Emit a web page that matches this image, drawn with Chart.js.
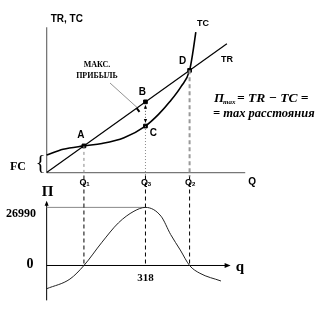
<!DOCTYPE html>
<html>
<head>
<meta charset="utf-8">
<script src="https://cdn.jsdelivr.net/npm/chart.js@4"></script>
<style>
  html, body { margin: 0; padding: 0; background: #fff; }
  #chart { display: block; }
</style>
</head>
<body>
<canvas id="chart" width="322" height="316"></canvas>
<script>
// ----------------------
// DATA
// ----------------------
// upper panel: total revenue / total cost against output Q
const qTR = [0, 580];
const trValues = [0, 133];
const qTC = [0, 53, 120, 178, 249, 318, 360, 396, 433, 460, 471, 480];
const tcValues = [18, 24, 27.5, 30, 36, 48, 60, 73, 89, 105.5, 125, 145];

// marked points A, B, C, D
const pointNames = ["A", "B", "C", "D"];
const pointQ = [120, 318, 318, 460];
const pointValues = [27.5, 73, 48, 105.5];

// lower panel: profit curve
const qProfit = [0, 75, 120, 178, 231, 281, 318, 368, 399, 430, 460, 493, 561];
const profitValues = [-10800, -6300, 0, 10800, 19800, 25200, 26990, 22900, 14400, 7200, 0, -3600, -7200];

// quantities on the axis: Q1, Q3, Q2
const qMarks = [120, 318, 460];
const qMarkNames = ["1", "3", "2"];
const profitTickLabels = ["0", "26990"];
const profitTickValues = [0, 26990];
const qTickLabel = "318";

// ----------------------
// HELPERS
// ----------------------
const xy = (xs, ys) => xs.map((x, i) => ({ x: x, y: ys[i] }));

function vSegment(q, from, to, axis, color, dash, width) {
  return {
    data: [{ x: q, y: from }, { x: q, y: to }],
    yAxisID: axis,
    showLine: true,
    borderColor: color,
    borderWidth: width,
    borderDash: dash,
    pointRadius: 0,
  };
}

function line(ctx, x1, y1, x2, y2, color, width, dash) {
  ctx.save();
  ctx.strokeStyle = color;
  ctx.lineWidth = width;
  ctx.setLineDash(dash || []);
  ctx.beginPath();
  ctx.moveTo(x1, y1);
  ctx.lineTo(x2, y2);
  ctx.stroke();
  ctx.restore();
}

function arrowHead(ctx, x, y, dx, dy, size, color) {
  const len = Math.hypot(dx, dy);
  const ux = dx / len, uy = dy / len;
  ctx.save();
  ctx.fillStyle = color;
  ctx.beginPath();
  ctx.moveTo(x, y);
  ctx.lineTo(x - ux * size - uy * size * 0.4, y - uy * size + ux * size * 0.4);
  ctx.lineTo(x - ux * size + uy * size * 0.4, y - uy * size - ux * size * 0.4);
  ctx.closePath();
  ctx.fill();
  ctx.restore();
}

function text(ctx, str, x, y, font, align) {
  ctx.save();
  ctx.font = font;
  ctx.fillStyle = "#000";
  ctx.textAlign = align || "center";
  ctx.textBaseline = "middle";
  ctx.fillText(str, x, y);
  ctx.restore();
}

// ----------------------
// AXES & ANNOTATIONS
// ----------------------
const SANS = "'Liberation Sans', Arial, sans-serif";
const SERIF = "'Liberation Serif', 'Times New Roman', serif";

const drawingPlugin = {
  id: "economicsDiagram",
  beforeDatasetsDraw(chart) {
    const ctx = chart.ctx;
    const sx = chart.scales.x, sy = chart.scales.y, sp = chart.scales.y2;
    const x0 = sx.getPixelForValue(0);

    // upper axes
    line(ctx, x0, sy.getPixelForValue(150), x0, sy.getPixelForValue(0), "#777", 1.3);
    line(ctx, x0, sy.getPixelForValue(0), sx.getPixelForValue(639), sy.getPixelForValue(0), "#777", 1.3);

    // lower axes with arrows
    const yTop = sp.getPixelForValue(30100);
    line(ctx, x0, sp.getPixelForValue(-16200), x0, yTop + 2, "#000", 1);
    arrowHead(ctx, x0, yTop, 0, -1, 5, "#000");
    const xEnd = sx.getPixelForValue(592);
    line(ctx, x0, sp.getPixelForValue(0), xEnd - 2, sp.getPixelForValue(0), "#000", 1);
    arrowHead(ctx, xEnd, sp.getPixelForValue(0), 1, 0, 6, "#000");

    // max profit guide line
    line(ctx, x0, sp.getPixelForValue(profitTickValues[1]), sx.getPixelForValue(qMarks[1]),
      sp.getPixelForValue(profitTickValues[1]), "#888", 1);
  },
  afterDatasetsDraw(chart) {
    const ctx = chart.ctx;
    const sx = chart.scales.x, sy = chart.scales.y, sp = chart.scales.y2;
    const x0 = sx.getPixelForValue(0);
    const px = (i) => sx.getPixelForValue(pointQ[i]);
    const py = (i) => sy.getPixelForValue(pointValues[i]);

    // titles of the upper panel
    text(ctx, "TR, TC", x0 + 4, sy.getPixelForValue(150) - 8, "bold 10px " + SANS, "left");
    text(ctx, "TC", 203, 24, "bold 9px " + SANS);
    text(ctx, "TR", 227, 60, "bold 9px " + SANS);

    // point names
    const offsets = [[-3, -11], [-3, -10], [8, 7], [-7, -9]];
    pointNames.forEach((n, i) => {
      text(ctx, n, px(i) + offsets[i][0], py(i) + offsets[i][1], "bold 10px " + SANS);
    });

    // Q labels with subscripts
    const yQ = sy.getPixelForValue(0) + 10;
    qMarks.forEach((q, i) => {
      const x = sx.getPixelForValue(q);
      text(ctx, "Q", x - 1, yQ, "bold 9px " + SANS);
      text(ctx, qMarkNames[i], x + 4, yQ + 2, "bold 6px " + SANS);
    });
    text(ctx, "Q", sx.getPixelForValue(661), yQ, "bold 10px " + SANS);

    // fixed cost brace
    text(ctx, "{", x0 - 6, sy.getPixelForValue(9), "21px " + SERIF);
    text(ctx, "FC", 18, sy.getPixelForValue(6), "bold 12px " + SERIF);

    // max profit callout
    text(ctx, "МАКС.", 97, 65, "bold 8px " + SERIF);
    text(ctx, "ПРИБЫЛЬ", 97, 76, "bold 8px " + SERIF);
    const bx = px(1), by = py(1);
    line(ctx, 110, 83, bx - 8, by + 6, "#777", 0.8);
    line(ctx, bx - 9, by + 6, bx - 6, by + 10, "#000", 2);

    // distance B-C with arrows
    const cy = py(2);
    line(ctx, bx, by + 6, bx, cy - 6, "#555", 1, [1, 2]);
    arrowHead(ctx, bx, by + 3, 0, -1, 4, "#000");
    arrowHead(ctx, bx, cy - 3, 0, 1, 4, "#000");

    // formula
    const fy1 = 99, fy2 = 114;
    text(ctx, "П", 214, fy1, "italic bold 13px " + SERIF, "left");
    text(ctx, "max", 223, fy1 + 3, "italic bold 7px " + SERIF, "left");
    text(ctx, "= TR − TC =", 237, fy1, "italic bold 13.5px " + SERIF, "left");
    text(ctx, "= max расстояния", 213, fy2, "italic bold 12.5px " + SERIF, "left");

    // lower panel labels
    text(ctx, "П", x0 + 1, sp.getPixelForValue(30100) - 9, "bold 15px " + SERIF);
    text(ctx, profitTickLabels[1], 21, sp.getPixelForValue(profitTickValues[1]) + 7, "bold 12px " + SERIF);
    text(ctx, profitTickLabels[0], 30, sp.getPixelForValue(profitTickValues[0]) - 1, "bold 14px " + SERIF);
    text(ctx, qTickLabel, sx.getPixelForValue(qMarks[1]), sp.getPixelForValue(0) + 13, "bold 11px " + SERIF);
    text(ctx, "q", sx.getPixelForValue(622), sp.getPixelForValue(0) + 2, "bold 15px " + SERIF);
  },
};

// ----------------------
// CHART
// ----------------------
const datasets = [
  // guide lines in the upper panel
  vSegment(qMarks[0], pointValues[0], -4, "y", "#888", [3, 3], 1),
  vSegment(qMarks[1], pointValues[2], -4, "y", "#888", [1, 2], 1),
  vSegment(qMarks[2], pointValues[3], -4, "y", "#999", [4, 3], 2),
  // guide lines in the lower panel
  ...qMarks.map((q) => vSegment(q, 41800, 0, "y2", "#000", [4, 3], 1)),
  {
    data: xy(qTR, trValues),
    yAxisID: "y",
    showLine: true,
    borderColor: "#000",
    borderWidth: 1.2,
    pointRadius: 0,
  },
  {
    data: xy(qTC, tcValues),
    yAxisID: "y",
    showLine: true,
    borderColor: "#000",
    borderWidth: 1.6,
    cubicInterpolationMode: "monotone",
    pointRadius: 0,
  },
  {
    data: xy(qProfit, profitValues),
    yAxisID: "y2",
    showLine: true,
    borderColor: "#222",
    borderWidth: 1,
    cubicInterpolationMode: "monotone",
    pointRadius: 0,
  },
  {
    data: xy(pointQ, pointValues),
    yAxisID: "y",
    showLine: false,
    pointStyle: "rect",
    pointRadius: 2.6,
    backgroundColor: "#000",
    borderColor: "#000",
  },
];

new Chart(document.getElementById("chart"), {
  type: "scatter",
  data: { datasets: datasets },
  options: {
    responsive: false,
    animation: false,
    devicePixelRatio: 1,
    layout: { padding: 0 },
    plugins: { legend: { display: false }, tooltip: { enabled: false } },
    scales: {
      x: { type: "linear", min: -134, max: 870, display: false },
      y: { type: "linear", min: -143, max: 173, display: false },
      y2: { type: "linear", min: -21141, max: 121003, display: false },
    },
  },
  plugins: [drawingPlugin],
});
</script>
</body>
</html>
